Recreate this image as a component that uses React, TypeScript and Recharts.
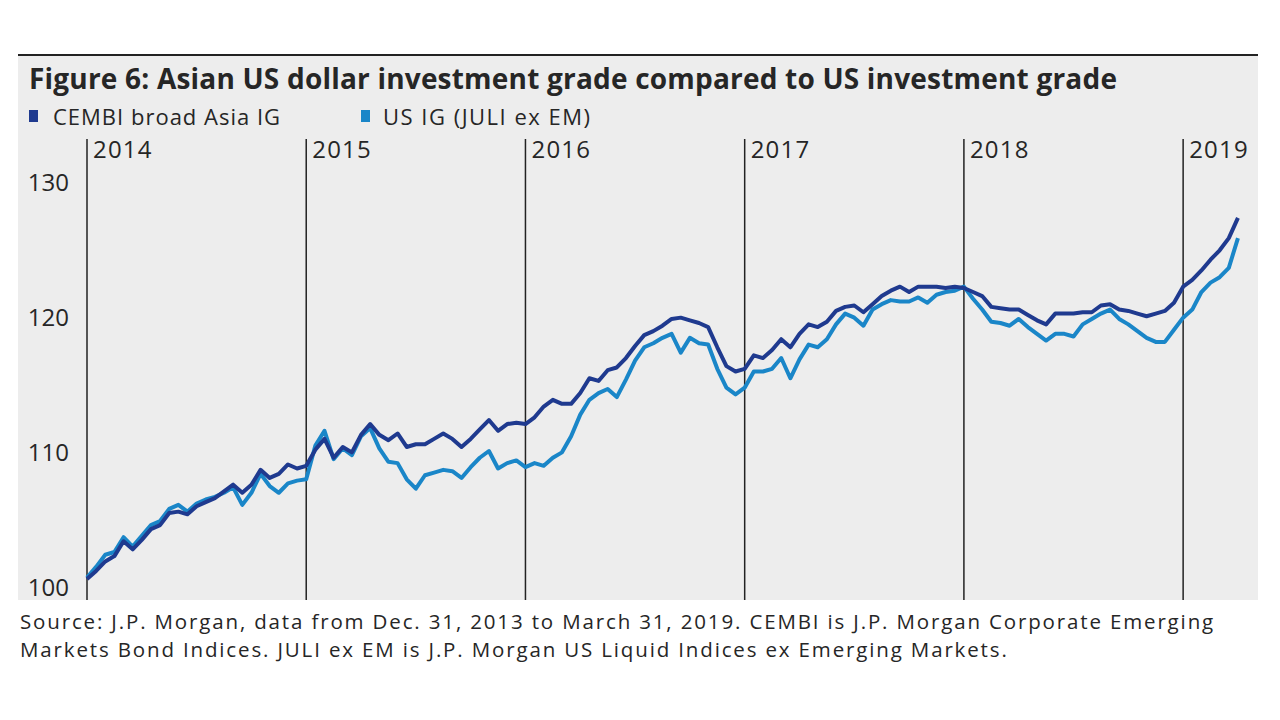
import React from 'react';
import { LineChart, Line, XAxis, YAxis, ReferenceLine } from 'recharts';

// months since Dec 31, 2013 (semi-monthly points)
const months: number[] = Array.from({ length: 127 }, (_, i) => i / 2);

const cembiAsiaIG: number[] = [
  100.6, 101.2, 101.9, 102.3, 103.4, 102.8, 103.5, 104.3, 104.6, 105.5,
  105.6, 105.4, 106.0, 106.3, 106.6, 107.1, 107.6, 107.0, 107.6, 108.7,
  108.1, 108.4, 109.1, 108.8, 109.0, 110.2, 111.0, 109.6, 110.4, 110.0,
  111.3, 112.1, 111.3, 110.9, 111.4, 110.4, 110.6, 110.6, 111.0, 111.4,
  111.0, 110.4, 111.0, 111.7, 112.4, 111.6, 112.1, 112.2, 112.1, 112.6,
  113.4, 113.9, 113.6, 113.6, 114.4, 115.5, 115.3, 116.1, 116.3, 117.0,
  117.9, 118.7, 119.0, 119.4, 119.9, 120.0, 119.8, 119.6, 119.3, 117.8,
  116.4, 116.0, 116.2, 117.2, 117.0, 117.6, 118.4, 117.8, 118.8, 119.5,
  119.3, 119.7, 120.5, 120.8, 120.9, 120.4, 121.0, 121.6, 122.0, 122.3,
  121.9, 122.3, 122.3, 122.3, 122.2, 122.3, 122.2, 121.9, 121.6, 120.8,
  120.7, 120.6, 120.6, 120.2, 119.8, 119.5, 120.3, 120.3, 120.3, 120.4,
  120.4, 120.9, 121.0, 120.6, 120.5, 120.3, 120.1, 120.3, 120.5, 121.1,
  122.3, 122.8, 123.5, 124.3, 125.0, 125.9, 127.4,
];

const usIG: number[] = [
  100.7, 101.5, 102.4, 102.6, 103.7, 103.0, 103.8, 104.6, 104.9, 105.8,
  106.1, 105.6, 106.2, 106.5, 106.7, 107.0, 107.4, 106.1, 107.0, 108.4,
  107.5, 107.0, 107.7, 107.9, 108.0, 110.5, 111.6, 109.5, 110.3, 109.8,
  111.2, 111.8, 110.3, 109.3, 109.2, 108.0, 107.3, 108.3, 108.5, 108.7,
  108.6, 108.1, 108.9, 109.6, 110.1, 108.8, 109.2, 109.4, 108.9, 109.2,
  109.0, 109.6, 110.0, 111.2, 112.8, 113.9, 114.4, 114.7, 114.1, 115.4,
  116.8, 117.8, 118.1, 118.5, 118.8, 117.4, 118.5, 118.1, 118.0, 116.2,
  114.8, 114.3, 114.8, 116.0, 116.0, 116.2, 117.0, 115.5, 116.9, 118.0,
  117.8, 118.4, 119.5, 120.3, 120.0, 119.4, 120.6, 121.0, 121.3, 121.2,
  121.2, 121.5, 121.1, 121.7, 121.9, 122.0, 122.3, 121.4, 120.6, 119.7,
  119.6, 119.4, 119.9, 119.3, 118.8, 118.3, 118.8, 118.8, 118.6, 119.5,
  119.9, 120.3, 120.6, 119.9, 119.5, 119.0, 118.5, 118.2, 118.2, 119.1,
  120.0, 120.6, 121.9, 122.6, 123.0, 123.7, 125.9,
];

const yearTicks: number[] = [0, 12, 24, 36, 48, 60];
const yearLabels: string[] = ['2014', '2015', '2016', '2017', '2018', '2019'];
const valueTicks: number[] = [100, 110, 120, 130];

const seriesNames: string[] = ['CEMBI broad Asia IG', 'US IG (JULI ex EM)'];
const footerLines: string[] = [
  'Source: J.P. Morgan, data from Dec. 31, 2013 to March 31, 2019. CEMBI is J.P. Morgan Corporate Emerging',
  'Markets Bond Indices. JULI ex EM is J.P. Morgan US Liquid Indices ex Emerging Markets.',
];
const DARK = '#1f3a8f';
const LIGHT = '#1a86c8';
const TEXT = '#262626';

const data = months.map((m, i) => ({ m, cembi: cembiAsiaIG[i], us: usIG[i] }));

const FONT = '"Open Sans", "Noto Sans", sans-serif';

const YearTick = (props: any) => {
  const { x, payload } = props;
  const idx = yearTicks.indexOf(payload.value);
  return (
    <text x={x + 6} y={158} fill={TEXT} fontSize={24} letterSpacing={1.2} fontFamily={FONT} textAnchor="start">
      {yearLabels[idx]}
    </text>
  );
};

export default function App() {
  return (
    <div style={{ position: 'absolute', left: 0, top: 0, width: 1280, height: 720, background: '#fff', overflow: 'hidden' }}>
      <div style={{ position: 'absolute', left: 18, top: 54, width: 1240, height: 546, background: '#ededed', borderTop: '2px solid #222', boxSizing: 'border-box' }} />
      <div style={{ position: 'absolute', left: 29, top: 59, fontFamily: FONT, fontWeight: 700, fontSize: 28, letterSpacing: 0.2, color: TEXT, whiteSpace: 'nowrap', lineHeight: '38px' }}>
        Figure 6: Asian US dollar investment grade compared to US investment grade
      </div>
      <div style={{ position: 'absolute', left: 29, top: 101, height: 30, width: 1200, fontFamily: FONT, fontSize: 22, letterSpacing: 1.0, color: TEXT, whiteSpace: 'nowrap' }}>
        <span style={{ position: 'absolute', left: 0, top: 9, width: 9, height: 12, background: DARK }} />
        <span style={{ position: 'absolute', left: 24, top: 0, lineHeight: '30px' }}>{seriesNames[0]}</span>
        <span style={{ position: 'absolute', left: 332, top: 9, width: 9, height: 12, background: LIGHT }} />
        <span style={{ position: 'absolute', left: 354, top: 0, lineHeight: '30px', letterSpacing: 1.5 }}>{seriesNames[1]}</span>
      </div>
      <div style={{ position: 'absolute', left: 0, top: 0 }}>
        <LineChart width={1280} height={720} data={data} margin={{ top: 138, right: 30, bottom: 120, left: 0 }}>
          <XAxis
            dataKey="m"
            type="number"
            orientation="top"
            domain={[0, 63.66]}
            ticks={yearTicks}
            axisLine={false}
            tickLine={false}
            height={1}
            tick={<YearTick />}
            interval={0}
          />
          <YAxis
            type="number"
            domain={[99.04, 133.26]}
            ticks={valueTicks}
            width={87}
            axisLine={false}
            tickLine={false}
            tickSize={0}
            tickMargin={18}
            tick={{ fill: TEXT, fontSize: 24, fontFamily: FONT }}
          />
          {yearTicks.map((t) => (
            <ReferenceLine key={t} x={t} stroke="#222" strokeWidth={1.5} />
          ))}
          <Line dataKey="us" stroke={LIGHT} strokeWidth={4} dot={false} isAnimationActive={false} strokeLinejoin="round" />
          <Line dataKey="cembi" stroke={DARK} strokeWidth={4} dot={false} isAnimationActive={false} strokeLinejoin="round" />
        </LineChart>
      </div>
      {footerLines.map((line, i) => (
        <div
          key={i}
          style={{ position: 'absolute', left: 20, top: 607 + i * 28, fontFamily: FONT, fontSize: 20.5, letterSpacing: 1.85, color: TEXT, lineHeight: '28px', whiteSpace: 'nowrap' }}
        >
          {line}
        </div>
      ))}
    </div>
  );
}
